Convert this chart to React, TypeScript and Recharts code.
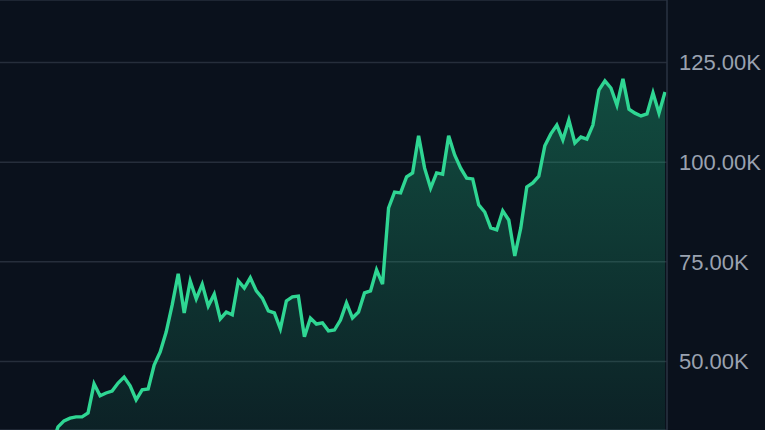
import React from 'react';
import { AreaChart, Area, XAxis, YAxis, CartesianGrid } from 'recharts';

// weekly index; index -1 sits just below the visible range (line enters from the bottom edge)
const weeks: number[] = Array.from({ length: 103 }, (_, i) => i - 1);

// price in thousands (K)
const prices: number[] = [
  29.1,
  33.6, 35.1, 35.8, 36.1, 36.1, 37.1, 44.4, 41.4, 42.1, 42.6,
  44.6, 46.1, 43.9, 40.4, 42.9, 43.1, 49.1, 52.4, 57.4, 64.2,
  72.0, 62.2, 70.2, 65.7, 69.4, 63.9, 66.9, 60.7, 62.4, 61.7,
  70.2, 68.4, 71.0, 67.7, 65.9, 62.7, 62.2, 58.2, 65.2, 66.2,
  66.4, 56.2, 60.9, 59.4, 59.7, 57.7, 57.9, 60.4, 64.7, 60.9,
  62.4, 67.2, 67.7, 73.0, 69.4, 88.5, 92.5, 92.3, 96.3, 97.3,
  106.6, 98.5, 93.5, 97.3, 97.0, 106.6, 101.8, 98.5, 96.0, 95.8,
  89.3, 87.5, 83.5, 83.0, 87.8, 85.5, 76.5, 83.5, 93.8, 94.8,
  96.5, 104.1, 107.1, 109.3, 105.6, 110.6, 104.8, 106.3, 105.8, 109.3,
  118.1, 120.4, 118.6, 114.3, 120.9, 113.3, 112.3, 111.6, 112.1, 117.4,
  112.3, 117.6,
];

const yTicks: number[] = [50, 75, 100, 125];

const chartData = weeks.map((w, i) => ({ week: w, price: prices[i] }));

const BG = '#0a111c';
const LINE = '#2fd693';

export default function App() {
  return (
    <div
      style={{
        position: 'fixed',
        left: 0,
        top: 0,
        width: 765,
        height: 430,
        overflow: 'hidden',
        background: BG,
        fontFamily: '"Liberation Sans", Arial, sans-serif',
      }}
    >
      <AreaChart
        width={765}
        height={430}
        data={chartData}
        margin={{ top: 0, right: 0, left: 0, bottom: 0 }}
      >
        <defs>
          <linearGradient id="priceFill" x1="0" y1="0" x2="0" y2="1">
            <stop offset="0%" stopColor="#1fb57f" stopOpacity={0.36} />
            <stop offset="100%" stopColor="#1fb57f" stopOpacity={0.09} />
          </linearGradient>
        </defs>
        <CartesianGrid vertical={false} stroke="#262e3b" strokeWidth={1.5} />
        <XAxis
          dataKey="week"
          type="number"
          domain={[-9.65, 101.33]}
          allowDataOverflow
          hide
        />
        <YAxis
          orientation="right"
          width={98}
          domain={[32.82, 140.68]}
          allowDataOverflow
          ticks={yTicks}
          tickFormatter={(v: number) => `${v.toFixed(2)}K`}
          tickLine={false}
          tickMargin={6}
          axisLine={{ stroke: '#2a3342', strokeWidth: 1.5 }}
          tick={{ fill: '#9aa2b0', fontSize: 22 }}
        />
        <Area
          type="linear"
          dataKey="price"
          stroke={LINE}
          strokeWidth={3.4}
          fill="url(#priceFill)"
          fillOpacity={1}
          dot={false}
          activeDot={false}
          isAnimationActive={false}
        />
      </AreaChart>
    </div>
  );
}
